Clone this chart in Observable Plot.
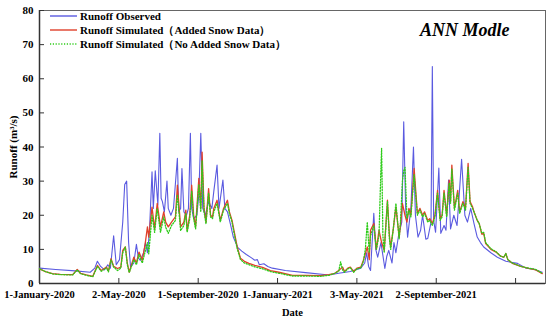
<!DOCTYPE html>
<html><head><meta charset="utf-8">
<script src="https://cdn.jsdelivr.net/npm/d3@7"></script>
<script src="https://cdn.jsdelivr.net/npm/@observablehq/plot@0.6"></script>
<style>
body{margin:0;background:#fff;}
#wrap{position:relative;width:550px;height:321px;font-family:"Liberation Serif","Times New Roman",serif;}
.leg{position:absolute;left:50px;top:9px;font-weight:bold;font-size:11px;line-height:14px;color:#000;}
.leg div{display:flex;align-items:center;height:14px;white-space:nowrap;}
.leg svg{margin-right:2px;}
.title{position:absolute;left:420px;top:20px;font-weight:bold;font-style:italic;font-size:18px;color:#000;white-space:nowrap;}
</style></head><body><div id="wrap"></div>
<script>
// x = days since 1 January 2020
const xTickDays = [0, 122, 244, 366, 488, 610, 732];
const xTickLabels = ["1-January-2020", "2-May-2020", "1-September-2020", "1-January-2021", "3-May-2021", "2-September-2021", ""];
const yTicks = [0, 10, 20, 30, 40, 50, 60, 70, 80];
const seriesNames = ["Runoff Observed", "Runoff Simulated（Added Snow Data）", "Runoff Simulated（No Added Snow Data）"];

const observed = [[0,4.5],[25,4.1],[55,3.7],[78,3.3],[85,4.5],[89,6.5],[94,5],[100,4],[105,5.5],[109,4.5],
[114,14],[118,5.5],[123,7],[128,18],[131,29],[134,30],[137,12],[140,4.8],[145,6],[149,11.5],
[152,7.5],[155,6.8],[160,9],[163,12],[166,9],[169,15],[173,32.7],[175,22],[178,33],[182,23],
[185,44],[187,25],[189,24],[192,21],[196,30],[198,22],[202,20],[206,22],[212,36.7],[214,21],
[217,22],[219,33.7],[222,21],[226,20],[229,22],[232,44],[234,22],[237,19],[242,20],[245,26],
[248,44],[251,22],[255,20],[260,24],[265,22],[268,27],[273,34.7],[276,22],[282,30.3],[285,22],
[289,21],[294,17],[298,13.6],[305,10.5],[311,9.5],[318,8.5],[326,7.5],[331,6.8],[335,7],[338,5.5],
[345,5.8],[351,5],[358,4.5],[378,3.8],[409,3.2],[445,2.5],[460,3],[478,3.5],[494,4.5],[500,6],
[503,9],[506,5],[509,3.8],[514,20.6],[517,10],[520,7.7],[525,12],[531,4.4],[534,8],[537,9.7],
[542,6],[545,12],[548,9],[552,14],[557,18],[560,47.4],[563,22],[566,13.6],[571,22],[575,40],
[578,20],[582,13.6],[586,15.6],[589,20],[594,13],[597,13.2],[602,18],[604,63.6],[606,18.5],[609,15],
[614,33.8],[617,14.7],[622,17],[625,15.6],[629,30.3],[632,16],[637,20],[642,17],[645,25],[649,36.4],
[654,20],[658,18],[663,22],[668,17.6],[673,13.6],[678,12],[683,10.7],[694,9],[704,7.7],[717,6.5],
[735,5.9],[748,4.5],[760,4.2],[773,3.3]];

const simulatedSnow = [[0,4.3],[9,3.5],[20,2.9],[32,2.7],[51,2.6],[58,4.1],[63,3],[72,2.5],[82,2.1],[89,5.3],
[95,3.8],[103,4.8],[106,3.6],[110,7.3],[114,5],[120,4.4],[125,4.8],[128,9.7],[132,10.7],[135,6],
[138,3.3],[145,7.7],[149,6],[153,9.2],[158,6.8],[162,11],[166,16.6],[168,13.6],[173,22.4],[177,16],
[181,23.5],[186,16.6],[191,21],[194,18],[198,16.6],[203,18],[209,19.5],[212,28.8],[217,16.6],[222,18],
[225,21.5],[227,15.6],[231,20],[234,28.8],[237,20],[240,16.6],[245,30.8],[248,22],[250,38.5],[253,22],
[256,18],[260,27.8],[263,20],[266,19.5],[268,22],[273,24.4],[278,18.5],[283,22],[289,24.4],[292,21],
[296,18.5],[299,15.6],[304,10.7],[309,7.4],[315,6.5],[322,5.9],[331,5.3],[343,4.7],[355,3.8],[368,3.3],
[389,2.4],[409,2.4],[432,2.3],[445,2.6],[454,3],[460,3.8],[466,4.8],[469,3.5],[474,4.5],[478,4.8],
[483,3.5],[488,4.5],[494,4.8],[498,6.8],[504,10.7],[507,7],[509,15.6],[514,17.6],[518,10],[522,15.6],
[526,12],[530,9.7],[535,24.4],[538,14],[540,10.7],[544,16],[548,22.4],[553,13.6],[555,17],[558,23.5],
[562,20],[565,18],[568,22],[571,20],[576,33.7],[581,20.6],[585,22],[589,20],[592,21],[597,18.5],
[600,19],[604,17.6],[608,20],[612,27.3],[616,19],[619,20],[622,27.3],[626,20],[630,30.3],[632,24],
[634,34.7],[638,22],[643,27.3],[646,21],[651,24],[655,22],[659,35.2],[662,24],[666,22.4],[668,21],
[673,18.5],[676,17.6],[680,14.5],[683,14.7],[686,11.7],[694,10],[702,9.2],[709,8],[714,7.7],[717,8.8],
[720,7],[727,5.9],[740,5],[752,4.4],[763,4],[773,2.9]];

const simulatedNoSnow = [[0,4.3],[9,3.5],[20,2.8],[32,2.6],[51,2.5],[58,4],[63,2.9],[72,2.4],[82,2],[89,5],
[95,3.6],[103,4.6],[106,3.4],[110,7],[114,4.8],[120,3.8],[125,4.5],[128,9],[132,10.7],[135,5.5],
[138,3.2],[145,7],[149,5.5],[153,8.5],[158,6],[162,9],[166,12],[168,8.7],[173,20],[177,15],
[181,22],[186,15],[191,19.5],[194,16.5],[198,14.7],[203,17],[209,18.5],[212,26],[217,15.5],[222,17],
[225,20.5],[227,15],[231,19],[234,27],[237,19],[240,16],[245,29],[248,21],[250,36],[253,21],
[256,17.5],[260,26.5],[263,19.5],[266,19],[268,21],[273,23.5],[278,18],[283,21.5],[289,23.5],[292,20.5],
[296,18],[299,15],[304,10.2],[309,7],[315,6],[322,5.5],[331,4.9],[343,4.3],[355,3.5],[368,3],
[389,2.2],[409,2.2],[432,2.1],[445,2.4],[454,3],[460,3.6],[463,6.3],[466,4],[469,3.3],[474,4.3],
[478,4.6],[483,3.3],[488,4.3],[494,4.6],[498,6.5],[501,10],[504,18],[507,9],[509,14],[514,17],
[518,10],[522,14],[525,34],[526,39.6],[528,14],[530,9],[535,24],[538,13],[540,10],[544,16],
[548,23.5],[553,13],[555,18],[558,30],[560,33],[562,34],[565,19],[568,21.5],[571,19.5],[576,32],
[581,20],[585,21.5],[589,19.5],[592,20.5],[597,18],[600,18.5],[604,17],[608,19.5],[612,26.5],[616,18.5],
[619,19.5],[622,26.5],[626,19.5],[630,29.5],[632,23.5],[634,33.5],[638,21.5],[643,26.5],[646,20.5],[651,23.5],
[655,21.5],[659,34],[662,23.5],[666,22],[668,21],[673,18.5],[676,17.6],[680,14.8],[683,15],[686,12],
[694,10.2],[702,9.3],[709,8],[714,7.7],[717,8.8],[720,7],[727,6],[740,5],[752,4.5],[763,4.1],[773,3]];

const colors = ["#5a5ae0", "#e0402a", "#2ecc1a"];
const labelOf = new Map(xTickDays.map((d, i) => [d, xTickLabels[i]]));

const chart = Plot.plot({
  width: 550, height: 321,
  marginLeft: 39, marginRight: 5, marginTop: 10, marginBottom: 38,
  style: {fontFamily: '"Liberation Serif", "Times New Roman", serif', fontSize: "11px", fontWeight: "bold", color: "#000", background: "#fff", overflow: "visible"},
  x: {domain: [0, 778]},
  y: {domain: [0, 80]},
  marks: [
    Plot.frame({stroke: "#666", strokeWidth: 1}),
    Plot.axisY({ticks: yTicks, tickSize: -5, tickPadding: 11, stroke: "#333", fontSize: 11,
      label: "Runoff (m³/s)", labelAnchor: "center", labelArrow: "none", labelOffset: 30}),
    Plot.axisX({ticks: xTickDays, tickFormat: d => labelOf.get(d), tickSize: -5, tickPadding: 12, stroke: "#333", fontSize: 10.5,
      label: "Date", labelAnchor: "center", labelArrow: "none", labelOffset: 32}),
    Plot.ruleY([0], {stroke: "#333", strokeWidth: 1.5}),
    Plot.ruleX([0], {stroke: "#333", strokeWidth: 1.5}),
    Plot.line(observed, {x: d => d[0], y: d => d[1], stroke: colors[0], strokeWidth: 1.1}),
    Plot.line(simulatedSnow, {x: d => d[0], y: d => d[1], stroke: colors[1], strokeWidth: 1.3}),
    Plot.line(simulatedNoSnow, {x: d => d[0], y: d => d[1], stroke: colors[2], strokeWidth: 1.3, strokeDasharray: "1.2,1.6"})
  ]
});

const wrap = document.getElementById("wrap");
wrap.appendChild(chart);

const leg = document.createElement("div");
leg.className = "leg";
seriesNames.forEach((name, i) => {
  const row = document.createElement("div");
  const dash = i === 2 ? ' stroke-dasharray="1.2,1.6"' : '';
  row.innerHTML = `<svg width="28" height="6"><line x1="0" y1="3" x2="27" y2="3" stroke="${colors[i]}" stroke-width="1.4"${dash}/></svg><span>${name}</span>`;
  leg.appendChild(row);
});
wrap.appendChild(leg);

const title = document.createElement("div");
title.className = "title";
title.textContent = "ANN Modle";
wrap.appendChild(title);
</script>
</body></html>
